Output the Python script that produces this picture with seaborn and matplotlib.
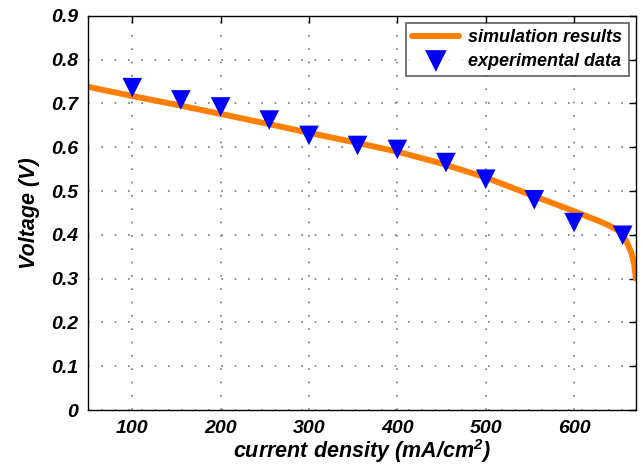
import numpy as np
import pandas as pd
import seaborn as sns
import matplotlib.pyplot as plt

# simulation curve
sim_current = [50, 100, 150, 200, 250, 300, 350, 400, 450, 500, 550, 600, 630, 640, 650, 655, 660, 665, 668, 670]
sim_voltage = [0.738, 0.717, 0.697, 0.676, 0.655, 0.633, 0.612, 0.590, 0.563, 0.531, 0.492, 0.454, 0.430, 0.421, 0.410, 0.400, 0.382, 0.358, 0.333, 0.300]

# experimental points
exp_current = [100, 155, 200, 255, 300, 355, 400, 455, 500, 555, 600, 655]
exp_voltage = [0.736, 0.708, 0.692, 0.662, 0.627, 0.604, 0.595, 0.565, 0.527, 0.480, 0.428, 0.399]

sim = pd.DataFrame({'current': sim_current, 'voltage': sim_voltage})
exp = pd.DataFrame({'current': exp_current, 'voltage': exp_voltage})

sns.set_style('white')
plt.rcParams['font.family'] = ['Liberation Sans', 'DejaVu Sans']
plt.rcParams['font.weight'] = 'bold'
plt.rcParams['font.style'] = 'italic'
plt.rcParams['text.color'] = 'black'
plt.rcParams['axes.labelcolor'] = 'black'
plt.rcParams['mathtext.fontset'] = 'custom'
plt.rcParams['mathtext.rm'] = 'Liberation Sans:italic:bold'
plt.rcParams['mathtext.it'] = 'Liberation Sans:italic:bold'
plt.rcParams['mathtext.default'] = 'rm'

fig, ax = plt.subplots(figsize=(6.43, 4.66), dpi=100)
fig.subplots_adjust(left=0.137, right=0.989, top=0.966, bottom=0.12)

sns.lineplot(x='current', y='voltage', data=sim, ax=ax, color='#ff8000', linewidth=4.3,
             label='simulation results', sort=False)
sns.scatterplot(x='current', y='voltage', data=exp, ax=ax, marker='v', color='#0000ff',
                s=200, edgecolor='none', label='experimental data', zorder=3)

ax.set_xlim(50, 670)
ax.set_ylim(0, 0.9)
ax.set_xticks([100, 200, 300, 400, 500, 600])
ax.set_yticks(np.arange(0, 0.91, 0.1))
ax.set_yticklabels(['0', '0.1', '0.2', '0.3', '0.4', '0.5', '0.6', '0.7', '0.8', '0.9'])
ax.tick_params(direction='in', length=5, width=1, top=True, right=True, labelsize=14, colors='black')
ax.tick_params(axis='x', pad=7)
ax.tick_params(axis='y', pad=7)
for lab in ax.get_xticklabels() + ax.get_yticklabels():
    lab.set_fontweight('bold')
    lab.set_fontstyle('italic')
ax.grid(True, linestyle=(0, (1, 7)), color='#777777', linewidth=1.2)
for s in ax.spines.values():
    s.set_color('black')
    s.set_linewidth(1)

ax.set_xlabel('current density (mA/cm$^2$)', fontsize=15.5, fontweight='bold', style='italic', labelpad=0)
ax.set_ylabel('Voltage (V)', fontsize=15.5, fontweight='bold', style='italic', labelpad=8)

leg = ax.legend(loc='upper right', fontsize=13, frameon=True, fancybox=False,
                edgecolor='#333333', borderpad=0.35, handlelength=2.6, labelspacing=0.35,
                handletextpad=0.5, borderaxespad=0.4, markerscale=1.1)
leg.get_frame().set_linewidth(1.2)

plt.savefig('out.png', dpi=100)
